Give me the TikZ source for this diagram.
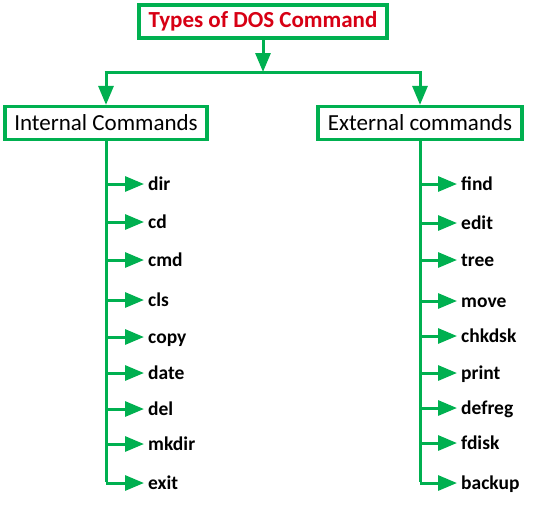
\documentclass[tikz,border=0pt]{standalone}
\usepackage{fontspec}
\setmainfont{Carlito}
\usetikzlibrary{arrows.meta}
\definecolor{dosgreen}{RGB}{0,176,80}
\definecolor{dosred}{RGB}{215,0,20}
\begin{document}
\begin{tikzpicture}[x=1pt,y=-1pt,
  box/.style={draw=dosgreen,line width=3.2pt,inner sep=0pt,minimum height=33pt},
  link/.style={draw=dosgreen,line width=3pt},
  arr/.style={link,-{Triangle[length=19pt,width=15pt]}},
  cmdtext/.style={anchor=base west,inner sep=0pt,font=\fontsize{19.5}{22}\selectfont\bfseries},
]
\useasboundingbox (0,0) rectangle (535,504);
\node[box,minimum width=248pt,font=\fontsize{23}{26}\selectfont\bfseries,text=dosred] (top) at (263,21.5) {Types of DOS Command};
\node[box,minimum width=202pt,font=\fontsize{23}{26}\selectfont] (int) at (106,123) {Internal Commands};
\node[box,minimum width=204pt,font=\fontsize{23}{26}\selectfont] (ext) at (420,123) {External commands};
\coordinate (jm) at (263,72);
\coordinate (jl) at (106,72);
\coordinate (jr) at (420,72);
\draw[arr] (top.south) -- (jm);
\draw[link] ([xshift=-1.5pt]jl) -- ([xshift=1.5pt]jr);
\draw[arr] (jl) -- (int.north);
\draw[arr] (jr) -- (ext.north);
% internal commands
\foreach \name/\y [count=\i] in {dir/184,cd/222,cmd/260,cls/300,copy/337,date/373,del/409,mkdir/444,exit/483}{
  \coordinate (l\i) at (106,\y);
  \node[cmdtext] (lc\i) at (148,\y+6) {\name};
  \draw[arr,shorten >=4pt] (l\i) -- (l\i -| lc\i.west);
}
\draw[link] (int.south) -- ([yshift=1.5pt]l9);
% external commands
\foreach \name/\y [count=\i] in {find/184,edit/223,tree/260,move/301,chkdsk/336,print/373,defreg/408,fdisk/443,backup/483}{
  \coordinate (r\i) at (420,\y);
  \node[cmdtext] (rc\i) at (461,\y+6) {\name};
  \draw[arr,shorten >=4pt] (r\i) -- (r\i -| rc\i.west);
}
\draw[link] (ext.south) -- ([yshift=1.5pt]r9);
\end{tikzpicture}
\end{document}
